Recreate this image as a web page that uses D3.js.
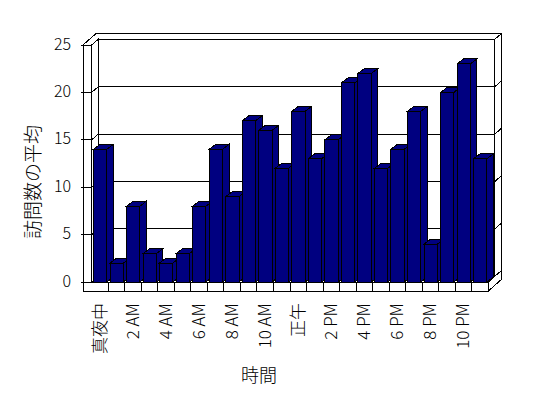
<!DOCTYPE html>
<html>
<head>
<meta charset="utf-8">
<script src="https://cdn.jsdelivr.net/npm/d3@7"></script>
<style>
body{margin:0;background:#fff;}
text{font-family:"Noto Sans CJK JP",sans-serif;fill:#000;font-weight:300;}
</style>
</head>
<body>
<svg id="chart" width="548" height="398"></svg>
<script>
let categories = ['真夜中','1 AM','2 AM','3 AM','4 AM','5 AM','6 AM','7 AM','8 AM','9 AM','10 AM','11 AM',
  '正午','1 PM','2 PM','3 PM','4 PM','5 PM','6 PM','7 PM','8 PM','9 PM','10 PM','11 PM'];
let visits = [14,2,8,3,2,3,8,14,9,17,16,12,18,13,15,21,22,12,14,18,4,20,23,13];
let yTicks = [0,5,10,15,20,25];
let shownLabels = ['真夜中','2 AM','4 AM','6 AM','8 AM','10 AM','正午','2 PM','4 PM','6 PM','8 PM','10 PM'];
let xTitle = '時間';
let yTitle = '訪問数の平均';

let chart = {};

chart.init = function(){
  let svg = d3.select('#chart');

  let x = d3.scaleBand().domain(categories).range([91.7, 488.3]);
  let y = d3.scaleLinear().domain([0,25]).range([282,45]);

  // oblique offsets: walls and bars
  let dx = 6.5, dy = 5.7;
  let bdx = 6.6, bdy = 5;

  let xa = 83, x0 = x.range()[0], x1 = x.range()[1];
  let y0 = y(0), yt = y(25), yb = 291;

  let line = d3.line();
  let g = svg.append('g')
  .attr('stroke', '#000')
  .attr('stroke-width', 1)
  .attr('shape-rendering', 'crispEdges');

  let poly = (pts, fill) => g.append('path')
  .attr('d', line(pts) + 'Z')
  .attr('fill', fill || '#fff');

  // right end of back wall + floor
  poly([[x1,y0],[x1+dx,y0-dy],[x1+dx,yt-dy],[x1+2*dx,yt-2*dy],[x1+2*dx,yb-2*dy],[x1,yb]]);
  // top of walls
  poly([[xa,yt],[x0,yt],[x0+dx,yt-dy],[x1+dx,yt-dy],[x1+2*dx,yt-2*dy],[xa+2*dx,yt-2*dy]]);
  // back wall face
  poly([[x0+dx,yt-dy],[x1+dx,yt-dy],[x1+dx,y0-dy],[x0+dx,y0-dy]]);
  // left wall inner face
  poly([[x0,yt],[x0+dx,yt-dy],[x0+dx,y0-dy],[x0,y0]]);
  // left wall front face
  poly([[xa,yt],[x0,yt],[x0,y0],[xa,y0]]);
  // floor
  poly([[x0,y0],[x1,y0],[x1+dx,y0-dy],[x0+dx,y0-dy]]);
  poly([[xa,y0],[x1,y0],[x1,yb],[xa,yb]]);

  g.selectAll('.divider')
  .data(categories.slice(1))
  .enter()
  .append('line')
  .attr('class', 'divider')
  .attr('x1', d=>x(d))
  .attr('x2', d=>x(d))
  .attr('y1', y0)
  .attr('y2', yb);

  g.selectAll('.grid')
  .data(yTicks)
  .enter()
  .append('path')
  .attr('class', 'grid')
  .attr('fill', 'none')
  .attr('d', v=>line([[xa-2,y(v)],[x0,y(v)],[x0+dx,y(v)-dy],[x1+dx,y(v)-dy],[x1+2*dx,y(v)-2*dy]]));

  // bars, left to right so each hides the side of the one before
  let bw = 13.3, boff = 1.8;
  let bars = g.selectAll('.bar')
  .data(visits)
  .enter()
  .append('g')
  .attr('class', 'bar')
  .attr('fill', '#000080');

  bars.append('path')
  .attr('d', (v,i)=>{
    let bx = x(categories[i]) + boff;
    return line([[bx+bw,y(v)],[bx+bw+bdx,y(v)-bdy],[bx+bw+bdx,y0-bdy],[bx+bw,y0]]) + 'Z';
  });
  bars.append('path')
  .attr('d', (v,i)=>{
    let bx = x(categories[i]) + boff;
    return line([[bx,y(v)],[bx+bw,y(v)],[bx+bw+bdx,y(v)-bdy],[bx+bdx,y(v)-bdy]]) + 'Z';
  });
  bars.append('rect')
  .attr('x', (v,i)=>x(categories[i]) + boff)
  .attr('y', v=>y(v))
  .attr('width', bw)
  .attr('height', v=>y0-y(v));

  // axis labels
  svg.selectAll('.ylab')
  .data(yTicks)
  .enter()
  .append('text')
  .attr('class', 'ylab')
  .attr('x', 71)
  .attr('y', v=>y(v)-1)
  .attr('dy', '0.35em')
  .attr('text-anchor', 'end')
  .style('font-size', '16px')
  .text(v=>v);

  svg.selectAll('.xlab')
  .data(shownLabels)
  .enter()
  .append('text')
  .attr('class', 'xlab')
  .attr('transform', d=>'translate(' + (x(d)+x.bandwidth()/2) + ',303) rotate(-90)')
  .attr('dy', '0.35em')
  .attr('text-anchor', 'end')
  .style('font-size', '17px')
  .text(d=>d);

  svg.append('text')
  .attr('x', 259)
  .attr('y', 376)
  .attr('dy', '0.35em')
  .attr('text-anchor', 'middle')
  .style('font-size', '18px')
  .text(xTitle);

  svg.append('text')
  .attr('transform', 'translate(33,182) rotate(-90)')
  .attr('dy', '0.35em')
  .attr('text-anchor', 'middle')
  .style('font-size', '19px')
  .text(yTitle);
};

chart.init();
</script>
</body>
</html>
